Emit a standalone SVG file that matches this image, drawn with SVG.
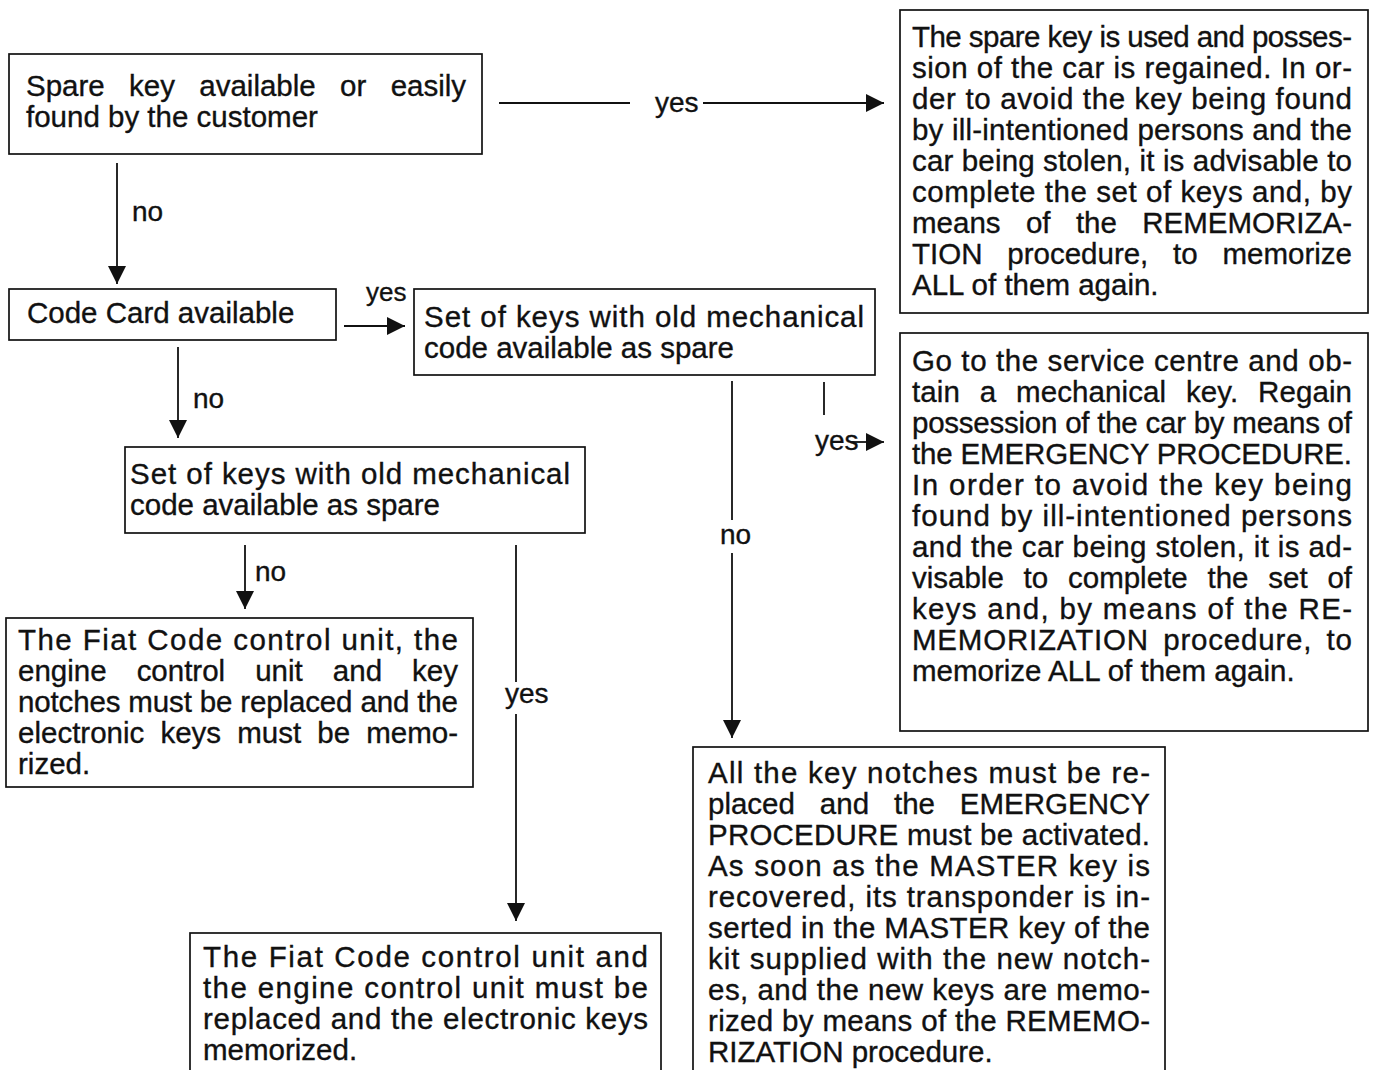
<svg xmlns="http://www.w3.org/2000/svg" width="1375" height="1070" viewBox="0 0 1375 1070">
<style>
.box{fill:#fff;stroke:#111;stroke-width:1.7}
.t{font-family:"Liberation Sans",Arial,Helvetica,sans-serif;font-size:29.5px;fill:#111;stroke:#111;stroke-width:0.35}
.lbl{font-family:"Liberation Sans",Arial,Helvetica,sans-serif;font-size:28px;fill:#111;stroke:#111;stroke-width:0.35}
.c{stroke:#111;stroke-width:1.8;fill:none}
</style>
<defs>
<marker id="ah" markerUnits="userSpaceOnUse" markerWidth="18" markerHeight="18" refX="18" refY="9" orient="auto">
<path d="M0,0 L18,9 L0,18 Z" fill="#111"/>
</marker>
</defs>
<rect width="1375" height="1070" fill="#fff"/>

<g id="connectors">
<line class="c" x1="499" y1="103" x2="630" y2="103"/>
<text class="lbl" x="655" y="112">yes</text>
<line class="c" x1="703" y1="103" x2="884" y2="103" marker-end="url(#ah)"/>

<line class="c" x1="117" y1="163" x2="117" y2="284" marker-end="url(#ah)"/>
<text class="lbl" x="132" y="221">no</text>

<line class="c" x1="344" y1="326" x2="405" y2="326" marker-end="url(#ah)"/>
<text class="lbl" x="366" y="301" style="font-size:26px">yes</text>

<line class="c" x1="178" y1="347" x2="178" y2="438" marker-end="url(#ah)"/>
<text class="lbl" x="193" y="408">no</text>

<line class="c" x1="245" y1="545" x2="245" y2="609" marker-end="url(#ah)"/>
<text class="lbl" x="255" y="581">no</text>

<line class="c" x1="516" y1="545" x2="516" y2="682"/>
<text class="lbl" x="505" y="703">yes</text>
<line class="c" x1="516" y1="714" x2="516" y2="921" marker-end="url(#ah)"/>

<line class="c" x1="732" y1="381" x2="732" y2="520"/>
<text class="lbl" x="720" y="544">no</text>
<line class="c" x1="732" y1="553" x2="732" y2="738" marker-end="url(#ah)"/>

<line class="c" x1="824" y1="382" x2="824" y2="415"/>
<text class="lbl" x="815" y="450">yes</text>
<line class="c" x1="852" y1="442" x2="884" y2="442" marker-end="url(#ah)"/>
</g>

<g id="spare-key">
<rect class="box" x="9" y="54" width="473" height="100"/>
<text class="t" x="26" y="96" textLength="440" word-spacing="16.2">Spare key available or easily</text>
<text class="t" x="26" y="127">found by the customer</text>
</g>

<g id="spare-key-yes">
<rect class="box" x="900" y="10" width="468" height="303"/>
<text class="t" x="912" y="47" textLength="440">The spare key is used and posses-</text>
<text class="t" x="912" y="78" textLength="440">sion of the car is regained. In or-</text>
<text class="t" x="912" y="109" textLength="440">der to avoid the key being found</text>
<text class="t" x="912" y="140" textLength="440">by ill-intentioned persons and the</text>
<text class="t" x="912" y="171" textLength="440">car being stolen, it is advisable to</text>
<text class="t" x="912" y="202" textLength="440">complete the set of keys and, by</text>
<text class="t" x="912" y="233" textLength="440" word-spacing="17.2">means of the REMEMORIZA-</text>
<text class="t" x="912" y="264" textLength="440" word-spacing="16.6">TION procedure, to memorize</text>
<text class="t" x="912" y="295">ALL of them again.</text>
</g>

<g id="code-card">
<rect class="box" x="9" y="289" width="327" height="51"/>
<text class="t" x="27" y="323">Code Card available</text>
</g>

<g id="old-keys-right">
<rect class="box" x="414" y="289" width="461" height="86"/>
<text class="t" x="424" y="327" textLength="440">Set of keys with old mechanical</text>
<text class="t" x="424" y="358">code available as spare</text>
</g>

<g id="service-centre">
<rect class="box" x="900" y="333" width="468" height="398"/>
<text class="t" x="912" y="371" textLength="440">Go to the service centre and ob-</text>
<text class="t" x="912" y="402" textLength="440" word-spacing="11.6">tain a mechanical key. Regain</text>
<text class="t" x="912" y="433" textLength="440">possession of the car by means of</text>
<text class="t" x="912" y="464" textLength="440">the EMERGENCY PROCEDURE.</text>
<text class="t" x="912" y="495" textLength="440">In order to avoid the key being</text>
<text class="t" x="912" y="526" textLength="440">found by ill-intentioned persons</text>
<text class="t" x="912" y="557" textLength="440">and the car being stolen, it is ad-</text>
<text class="t" x="912" y="588" textLength="440" word-spacing="11.6">visable to complete the set of</text>
<text class="t" x="912" y="619" textLength="440">keys and, by means of the RE-</text>
<text class="t" x="912" y="650" textLength="440" word-spacing="5.4">MEMORIZATION procedure, to</text>
<text class="t" x="912" y="681">memorize ALL of them again.</text>
</g>

<g id="old-keys-left">
<rect class="box" x="125" y="447" width="460" height="86"/>
<text class="t" x="130" y="484" textLength="440">Set of keys with old mechanical</text>
<text class="t" x="130" y="515">code available as spare</text>
</g>

<g id="replace-all">
<rect class="box" x="6" y="618" width="467" height="169"/>
<text class="t" x="18" y="650" textLength="440">The Fiat Code control unit, the</text>
<text class="t" x="18" y="681" textLength="440" word-spacing="21.9">engine control unit and key</text>
<text class="t" x="18" y="712" textLength="440">notches must be replaced and the</text>
<text class="t" x="18" y="743" textLength="440" word-spacing="7.9">electronic keys must be memo-</text>
<text class="t" x="18" y="774">rized.</text>
</g>

<g id="replace-units">
<rect class="box" x="190" y="933" width="471" height="150"/>
<text class="t" x="203" y="967" textLength="445">The Fiat Code control unit and</text>
<text class="t" x="203" y="998" textLength="445">the engine control unit must be</text>
<text class="t" x="203" y="1029" textLength="445">replaced and the electronic keys</text>
<text class="t" x="203" y="1060">memorized.</text>
</g>

<g id="replace-notches">
<rect class="box" x="693" y="747" width="472" height="340"/>
<text class="t" x="708" y="783" textLength="442">All the key notches must be re-</text>
<text class="t" x="708" y="814" textLength="442" word-spacing="16.7">placed and the EMERGENCY</text>
<text class="t" x="708" y="845" textLength="442">PROCEDURE must be activated.</text>
<text class="t" x="708" y="876" textLength="442">As soon as the MASTER key is</text>
<text class="t" x="708" y="907" textLength="442">recovered, its transponder is in-</text>
<text class="t" x="708" y="938" textLength="442">serted in the MASTER key of the</text>
<text class="t" x="708" y="969" textLength="442">kit supplied with the new notch-</text>
<text class="t" x="708" y="1000" textLength="442">es, and the new keys are memo-</text>
<text class="t" x="708" y="1031" textLength="442">rized by means of the REMEMO-</text>
<text class="t" x="708" y="1062">RIZATION procedure.</text>
</g>
</svg>
